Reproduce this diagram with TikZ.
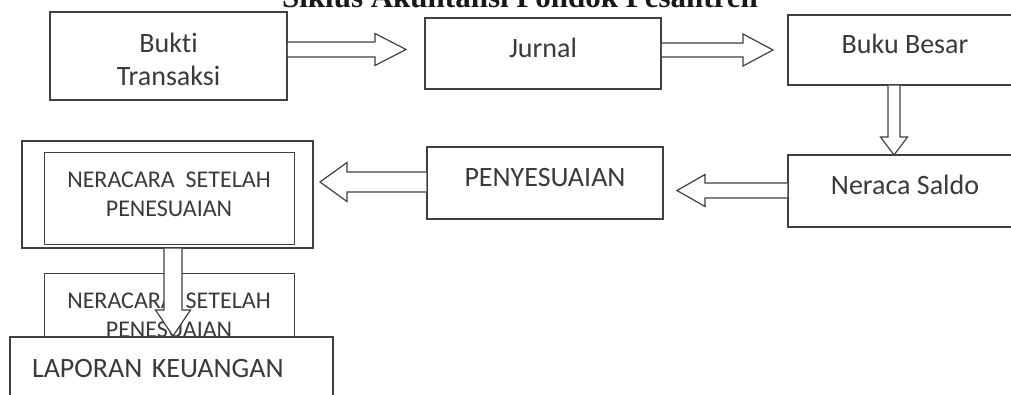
\documentclass[tikz,border=0pt]{standalone}
\usepackage{fontspec}
\setmainfont{Carlito}[Ligatures=NoCommon]
\newfontfamily\titlefont{Liberation Serif}
\usetikzlibrary{calc}

\definecolor{boxline}{HTML}{404040}
\definecolor{boxtext}{HTML}{3A3A3A}

% hollow block arrow: start, tip, half shaft, half head, head length
\newcommand{\hollowarrow}[5]{%
  \coordinate (hb) at ($(#2)!#5!(#1)$);
  \draw[hollow] ($(#1)!#3!90:(#2)$) -- ($(hb)!#3!90:(#2)$) -- ($(hb)!#4!90:(#2)$) -- (#2)
    -- ($(hb)!#4!-90:(#2)$) -- ($(hb)!#3!-90:(#2)$) -- ($(#1)!#3!-90:(#2)$);
}

\begin{document}
\begin{tikzpicture}[
  x=1pt, y=-1pt,
  box/.style={draw=boxline, line width=1.5pt, fill=white, text=boxtext, inner sep=0pt,
    font=\fontsize{28}{33.6}\selectfont, text height=20pt, text depth=12pt},
  smallbox/.style={box, line width=1pt, align=center,
    font=\fontsize{24}{29}\selectfont, text height=40pt, text depth=4pt},
  hollow/.style={draw=boxline, line width=1.2pt, fill=white, line join=miter}
]
  \useasboundingbox (0,0) rectangle (1011,395);
  \node[font=\titlefont\bfseries\fontsize{31}{36}\selectfont, text=black!90, anchor=base, inner sep=0pt]
    (title) at (520,8) {Siklus Akuntansi Pondok Pesantren};

  % top row
  \node[box, align=center, text height=60pt, text depth=0pt, minimum width=237pt, minimum height=88pt] (bukti) at (168.5,56) {Bukti\\Transaksi};
  \node[box, minimum width=236pt, minimum height=71pt] (jurnal) at (543,53.5) {Jurnal};
  \node[box, minimum width=234pt, minimum height=70pt] (bukubesar) at (905,50) {Buku Besar};

  % second row
  \node[box, minimum width=234pt, minimum height=72pt] (neracasaldo) at (905,191) {Neraca Saldo};
  \node[box, minimum width=236pt, minimum height=72pt] (penyesuaian) at (545,183) {PENYESUAIAN};
  \node[box, minimum width=291pt, minimum height=107pt] (outer) at (167.5,194.5) {};
  \node[smallbox, minimum width=250pt, minimum height=92pt] (inner) at (169,199) {NERACARA~ SETELAH\\PENESUAIAN};
  \node[smallbox, minimum width=250pt, minimum height=92pt] (copy) at (169,319) {NERACARA~ SETELAH\\PENESUAIAN};

  % arrows
  \coordinate (t1) at (406,49.5);
  \coordinate (s1) at (bukti.east |- t1);
  \hollowarrow{s1}{t1}{7.5pt}{16pt}{31pt}
  \coordinate (t2) at (773,50);
  \coordinate (s2) at (jurnal.east |- t2);
  \hollowarrow{s2}{t2}{7pt}{16pt}{30pt}
  \coordinate (t3) at (894,155);
  \coordinate (s3) at (bukubesar.south -| t3);
  \hollowarrow{s3}{t3}{6pt}{13.5pt}{18pt}
  \coordinate (t4) at (677,190.5);
  \coordinate (s4) at (neracasaldo.west |- t4);
  \hollowarrow{s4}{t4}{7.5pt}{16pt}{28pt}
  \coordinate (t5) at (320,182);
  \coordinate (s5) at (penyesuaian.west |- t5);
  \hollowarrow{s5}{t5}{10pt}{19.5pt}{27pt}
  \coordinate (t6) at (173,336);
  \coordinate (s6) at (outer.south -| t6);
  \hollowarrow{s6}{t6}{9pt}{17.5pt}{26pt}

  \node[box, text width=279pt, align=left, inner xsep=22pt, minimum height=72pt] (laporan) at (171.5,373) {LAPORAN KEUANGAN};
\end{tikzpicture}
\end{document}
